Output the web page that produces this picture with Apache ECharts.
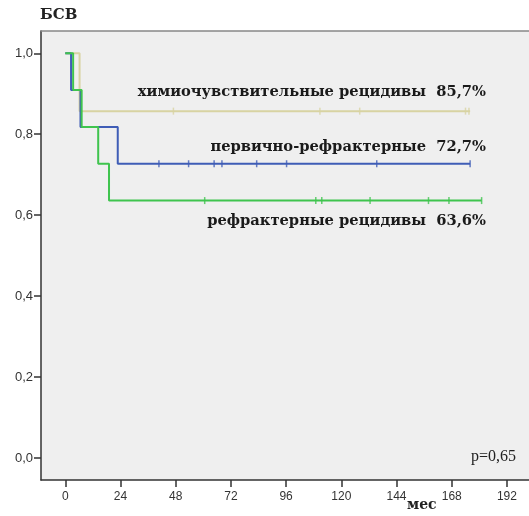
<!DOCTYPE html>
<html><head><meta charset="utf-8">
<script src="https://cdn.jsdelivr.net/npm/echarts@6/dist/echarts.min.js"></script>
<style>html,body{margin:0;padding:0;background:#fff}#c{width:529px;height:516px}</style>
</head><body><div id="c"></div>
<script>
// Kaplan-Meier step points [month, survival]
const chemoSensitive = [[0,1.0],[6.2,0.857],[176,0.857]];
const primaryRefractory = [[0,1.0],[2.5,0.909],[6.6,0.818],[22.8,0.727],[176,0.727]];
const refractoryRelapse = [[0,1.0],[3.4,0.909],[7.1,0.818],[14.3,0.727],[19,0.636],[181,0.636]];
// censored observations [month, survival]
const chemoCensor = [[47,0.857],[110.7,0.857],[128,0.857],[174,0.857],[175.5,0.857]];
const primaryCensor = [[40.7,0.727],[53.6,0.727],[64.7,0.727],[68.1,0.727],[83.2,0.727],[96.2,0.727],[135.4,0.727],[176,0.727]];
const refractoryCensor = [[60.6,0.636],[108.9,0.636],[111.5,0.636],[132.5,0.636],[157.9,0.636],[166.8,0.636],[181,0.636]];
const xTicks = [0,24,48,72,96,120,144,168,192];
const yTicks = [0,0.2,0.4,0.6,0.8,1.0];
const seriesNames = ['химиочувствительные рецидивы','первично-рефрактерные','рефрактерные рецидивы'];
const finalPct = ['85,7%','72,7%','63,6%'];
const colors = ['#D8D3A2','#3F5DB6','#3FC44E'];

const chart = echarts.init(document.getElementById('c'));
const serif = '"DejaVu Serif",serif';
const tserif = '"Liberation Serif",serif';
const sans = '"Liberation Sans",Arial,sans-serif';
function km(name, data, color, z){
  return {name, type:'line', step:'end', data, symbol:'none', z,
    lineStyle:{color, width:2}, animation:false, silent:true};
}
function cens(data, color, z){
  return {type:'scatter', data, symbol:'rect', symbolSize:[1.5,7], z,
    itemStyle:{color}, animation:false, silent:true};
}
chart.setOption({
  backgroundColor:'#fff',
  animation:false,
  grid:{left:41, top:31, right:0, bottom:36, show:true, backgroundColor:'#EFEFEF', borderWidth:0},
  xAxis:[{type:'value', min:-10.57, max:201.6, position:'bottom',
    axisLine:{show:true, onZero:false, lineStyle:{color:'#333', width:1.5}},
    axisTick:{show:true, length:7, lineStyle:{color:'#333', width:1.5}, customValues:xTicks},
    axisLabel:{color:'#333', fontSize:12, fontFamily:sans, margin:11, customValues:xTicks},
    splitLine:{show:false}},
   {type:'value', min:-10.57, max:201.6, position:'top',
    axisLine:{show:true, onZero:false, lineStyle:{color:'#888', width:1.5}},
    axisTick:{show:false}, axisLabel:{show:false}, splitLine:{show:false}}],
  yAxis:{type:'value', min:-0.0544, max:1.055,
    axisLine:{show:true, onZero:false, lineStyle:{color:'#333', width:1.5}},
    axisTick:{show:true, length:7, lineStyle:{color:'#333', width:1.5}, customValues:yTicks},
    axisLabel:{color:'#333', fontSize:13, fontFamily:sans, margin:8, customValues:yTicks,
      formatter:v=>v.toFixed(1).replace('.',',')},
    splitLine:{show:false}},
  series:[
    km(seriesNames[0], chemoSensitive, colors[0], 2),
    cens(chemoCensor, colors[0], 2),
    km(seriesNames[1], primaryRefractory, colors[1], 3),
    cens(primaryCensor, colors[1], 3),
    km(seriesNames[2], refractoryRelapse, colors[2], 4),
    cens(refractoryCensor, colors[2], 4)
  ],
  graphic:[
    {type:'text', left:40, top:8, style:{text:'БСВ', font:'bold 15px '+serif, fill:'#222'}},
    {type:'text', right:43, top:85, style:{text:seriesNames[0]+'  '+finalPct[0], font:'bold 14.7px '+serif, fill:'#1a1a1a'}},
    {type:'text', right:43, top:140, style:{text:seriesNames[1]+'  '+finalPct[1], font:'bold 14.7px '+serif, fill:'#1a1a1a'}},
    {type:'text', right:43, top:214, style:{text:seriesNames[2]+'  '+finalPct[2], font:'bold 14.7px '+serif, fill:'#1a1a1a'}},
    {type:'text', right:13, top:449, style:{text:'p=0,65', font:'16px '+tserif, fill:'#222'}},
    {type:'text', left:407, top:498, style:{text:'мес', font:'bold 14px '+serif, fill:'#222'}}
  ]
});
</script></body></html>
